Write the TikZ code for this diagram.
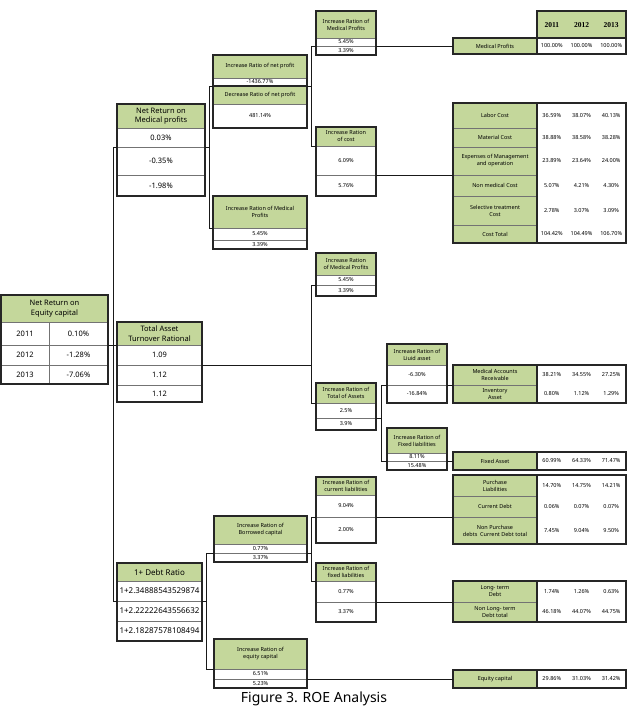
\documentclass[tikz,border=0pt]{standalone}
\usepackage{fontspec}
\setmainfont{Noto Sans}
\newfontfamily\yrfont{Liberation Serif}
\definecolor{boxgreen}{HTML}{C4D79B}
\newcommand\fmain{\fontsize{7.5}{9.5}\selectfont}
\newcommand\fsmall{\fontsize{5.5}{7}\selectfont}
\newcommand\fbig{\fontsize{8}{9.5}\selectfont}
\newcommand\cell[7]{\node[#6, minimum width={(#4)-(#2)}, minimum height={(#5)-(#3)}] (#1) at ({((#2)+(#4))/2},{((#3)+(#5))/2}) {#7};}
\newcommand\frm[2]{\draw[frame] (#1.north west) rectangle (#2.south east);}
\newcommand\tvals[5]{%
\node[txt,font=\fsmall] (#1a) at (551.8,#2) {#3};
\node[txt,font=\fsmall] (#1b) at (581.5,#2) {#4};
\node[txt,font=\fsmall] (#1c) at (611.2,#2) {#5};}
\tikzset{
 cellg/.style={draw=black!55, line width=0.4pt, fill=boxgreen, inner sep=0pt, outer sep=0pt, align=center},
 cellw/.style={draw=black!55, line width=0.4pt, fill=white, inner sep=0pt, outer sep=0pt, align=center},
 gS/.style={cellg, font=\fsmall}, wS/.style={cellw, font=\fsmall},
 gM/.style={cellg, font=\fmain}, wM/.style={cellw, font=\fmain},
 gB/.style={cellg, font=\fbig}, wB/.style={cellw, font=\fbig},
 frame/.style={draw=black!85, line width=1.1pt},
 conn/.style={draw=black!90, line width=0.8pt},
 txt/.style={inner sep=0pt, align=center}
}
\begin{document}
\begin{tikzpicture}[x=1pt,y=-1pt]
\useasboundingbox[fill=white] (0,0) rectangle (630,711);

% ---------- Net Return on Equity capital
\cell{eqh}{1}{295}{108}{322}{gM}{Net Return on\\Equity capital}
\cell{eqa1}{1}{322}{49}{345}{wM}{2011}
\cell{eqb1}{49}{322}{108}{345}{wM}{0.10\%}
\cell{eqa2}{1}{345}{49}{365}{wM}{2012}
\cell{eqb2}{49}{345}{108}{365}{wM}{-1.28\%}
\cell{eqa3}{1}{365}{49}{384}{wM}{2013}
\cell{eqb3}{49}{365}{108}{384}{wM}{-7.06\%}
\frm{eqh}{eqb3}

% ---------- Net Return on Medical profits
\cell{nrmh}{117}{104}{205}{128}{gM}{Net Return on\\Medical profits}
\cell{nrm1}{117}{128}{205}{147}{wM}{0.03\%}
\cell{nrm2}{117}{147}{205}{175}{wM}{-0.35\%}
\cell{nrm3}{117}{175}{205}{196}{wM}{-1.98\%}
\frm{nrmh}{nrm3}

% ---------- Total Asset Turnover
\cell{tath}{117}{322}{202}{345}{gM}{Total Asset\\Turnover Rational}
\cell{tat1}{117}{345}{202}{365}{wM}{1.09}
\cell{tat2}{117}{365}{202}{385}{wM}{1.12}
\cell{tat3}{117}{385}{202}{402}{wM}{1.12}
\frm{tath}{tat3}

% ---------- 1+ Debt Ratio
\cell{drh}{117}{563}{202}{581}{gB}{1+ Debt Ratio}
\cell{dr1}{117}{581}{202}{601}{wB}{1+2.34888543529874}
\cell{dr2}{117}{601}{202}{621}{wB}{1+2.22222643556632}
\cell{dr3}{117}{621}{202}{641}{wB}{1+2.18287578108494}
\frm{drh}{dr3}

% ---------- net profit ratios
\cell{inph}{213}{55}{307}{78}{gS}{Increase Ratio of net profit}
\cell{inp1}{213}{78}{307}{86}{wS}{-1436.77\%}
\frm{inph}{inp1}
\cell{inph2}{213}{86}{307}{104}{gS}{Decrease Ratio of net profit}
\cell{inp2}{213}{104}{307}{128}{wS}{481.14\%}
\frm{inph2}{inp2}

\cell{imp1h}{213}{196}{307}{228}{gS}{Increase Ration of Medical\\Profits}
\cell{imp1a}{213}{228}{307}{240}{wS}{5.45\%}
\cell{imp1b}{213}{240}{307}{249}{wS}{3.39\%}
\frm{imp1h}{imp1b}

\cell{imp2h}{316}{11}{376}{38}{gS}{Increase Ration of\\Medical Profits}
\cell{imp2a}{316}{38}{376}{46}{wS}{5.45\%}
\cell{imp2b}{316}{46}{376}{55}{wS}{3.39\%}
\frm{imp2h}{imp2b}

\cell{irch}{316}{127}{376}{146}{gS}{Increase Ration\\of cost}
\cell{irc1}{316}{146}{376}{175}{wS}{6.09\%}
\cell{irc2}{316}{175}{376}{196}{wS}{5.76\%}
\frm{irch}{irc2}

% ---------- asset ratios
\cell{imp3h}{316}{253}{376}{275}{gS}{Increase Ration\\of Medical Profits}
\cell{imp3a}{316}{275}{376}{285}{wS}{5.45\%}
\cell{imp3b}{316}{285}{376}{296}{wS}{3.39\%}
\frm{imp3h}{imp3b}

\cell{itah}{316}{383}{376}{403}{gS}{Increase Ration of\\Total of Assets}
\cell{ita1}{316}{403}{376}{418}{wS}{2.5\%}
\cell{ita2}{316}{418}{376}{430}{wS}{3.9\%}
\frm{itah}{ita2}

\cell{ilah}{387}{344}{447}{365}{gS}{Increase Ration of\\Liuid asset}
\cell{ila1}{387}{365}{447}{385}{wS}{-6.30\%}
\cell{ila2}{387}{385}{447}{403}{wS}{-16.84\%}
\frm{ilah}{ila2}

\cell{ifah}{387}{428}{447}{453}{gS}{Increase Ration of\\Fixed liabilities}
\cell{ifa1}{387}{453}{447}{461}{wS}{8.11\%}
\cell{ifa2}{387}{461}{447}{470}{wS}{15.48\%}
\frm{ifah}{ifa2}

% ---------- capital ratios
\cell{ibch}{214}{516}{307}{544}{gS}{Increase Ration of\\Borrowed capital}
\cell{ibc1}{214}{544}{307}{553}{wS}{0.77\%}
\cell{ibc2}{214}{553}{307}{562}{wS}{3.37\%}
\frm{ibch}{ibc2}

\cell{iech}{214}{639}{307}{669}{gS}{Increase Ration of\\equity capital}
\cell{iec1}{214}{669}{307}{679}{wS}{6.51\%}
\cell{iec2}{214}{679}{307}{688}{wS}{5.23\%}
\frm{iech}{iec2}

\cell{iclh}{316}{477}{376}{495}{gS}{Increase Ration of\\current liabilities}
\cell{icl1}{316}{495}{376}{517}{wS}{9.04\%}
\cell{icl2}{316}{517}{376}{543}{wS}{2.00\%}
\frm{iclh}{icl2}

\cell{iflh}{316}{563}{376}{581}{gS}{Increase Ration of\\fixed liabilities}
\cell{ifl1}{316}{581}{376}{602}{wS}{0.77\%}
\cell{ifl2}{316}{602}{376}{622}{wS}{3.37\%}
\frm{iflh}{ifl2}

% ---------- right tables
\cell{yrh}{537}{11}{626}{38}{cellg}{}
\node[txt] (y1) at (551.8,25) {\yrfont\bfseries\fontsize{7.5}{8}\selectfont 2011};
\node[txt] (y2) at (581.5,25) {\yrfont\bfseries\fontsize{7.5}{8}\selectfont 2012};
\node[txt] (y3) at (611.2,25) {\yrfont\bfseries\fontsize{7.5}{8}\selectfont 2013};
\frm{yrh}{yrh}
\cell{mpl}{453}{38}{537}{54}{gS}{Medical Profits}
\cell{mpv}{537}{38}{626}{54}{cellw}{}
\tvals{mp}{46}{100.00\%}{100.00\%}{100.00\%}
\frm{mpl}{mpv}
\draw[frame] (mpl.north east) -- (mpl.south east);

\cell{ctv}{537}{103}{626}{243}{cellw}{}
\cell{ct1}{453}{103}{537}{128}{gS}{Labor Cost}
\cell{ct2}{453}{128}{537}{147}{gS}{Material Cost}
\cell{ct3}{453}{147}{537}{175}{gS}{Expenses of Management\\and operation}
\cell{ct4}{453}{175}{537}{196}{gS}{Non medical Cost}
\cell{ct5}{453}{196}{537}{225}{gS}{Selective treatment\\Cost}
\cell{ct6}{453}{225}{537}{243}{gS}{Cost Total}
\tvals{cta}{115.5}{36.59\%}{38.07\%}{40.13\%}
\tvals{ctb}{137.5}{38.88\%}{38.58\%}{38.28\%}
\tvals{ctc}{161}{23.89\%}{23.64\%}{24.00\%}
\tvals{ctd}{185.5}{5.07\%}{4.21\%}{4.30\%}
\tvals{cte}{210.5}{2.78\%}{3.07\%}{3.09\%}
\tvals{ctf}{234}{104.42\%}{104.49\%}{106.70\%}
\frm{ct1}{ctv}
\draw[frame] (ct1.north east) -- (ct6.south east);

\cell{marv}{537}{365}{626}{403}{cellw}{}
\cell{mar1}{453}{365}{537}{385}{gS}{Medical Accounts\\Receivable}
\cell{mar2}{453}{385}{537}{403}{gS}{Inventory\\Asset}
\tvals{mra}{375}{38.21\%}{34.55\%}{27.25\%}
\tvals{mrb}{394}{0.80\%}{1.12\%}{1.29\%}
\frm{mar1}{marv}
\draw[frame] (mar1.north east) -- (mar2.south east);

\cell{fav}{537}{452}{626}{470}{cellw}{}
\cell{fa1}{453}{452}{537}{470}{gS}{Fixed Asset}
\tvals{fa}{461}{60.99\%}{64.33\%}{71.47\%}
\frm{fa1}{fav}
\draw[frame] (fa1.north east) -- (fa1.south east);

\cell{plv}{537}{475}{626}{544}{cellw}{}
\cell{pl1}{453}{475}{537}{496}{gS}{Purchase\\Liabilities}
\cell{pl2}{453}{496}{537}{517}{gS}{Current Debt}
\cell{pl3}{453}{517}{537}{544}{gS}{Non Purchase\\debts\enspace Current Debt total}
\tvals{pla}{485.5}{14.70\%}{14.75\%}{14.21\%}
\tvals{plb}{506.5}{0.06\%}{0.07\%}{0.07\%}
\tvals{plc}{530.5}{7.45\%}{9.04\%}{9.50\%}
\frm{pl1}{plv}
\draw[frame] (pl1.north east) -- (pl3.south east);

\cell{ltv}{537}{581}{626}{622}{cellw}{}
\cell{lt1}{453}{581}{537}{602}{gS}{Long- term\\Debt}
\cell{lt2}{453}{602}{537}{622}{gS}{Non Long- term\\Debt total}
\tvals{lta}{591.5}{1.74\%}{1.26\%}{0.63\%}
\tvals{ltb}{612}{46.18\%}{44.07\%}{44.75\%}
\frm{lt1}{ltv}
\draw[frame] (lt1.north east) -- (lt2.south east);

\cell{ecv}{537}{670}{626}{688}{cellw}{}
\cell{ec1}{453}{670}{537}{688}{gS}{Equity capital}
\tvals{ec}{679}{29.86\%}{31.03\%}{31.42\%}
\frm{ec1}{ecv}
\draw[frame] (ec1.north east) -- (ec1.south east);

% ---------- connectors
\draw[conn] (nrm1.south west) -- ++(-4,0) |- (dr1.south west);
\draw[conn] (eqb1.south east) -- (tath.south west);

\draw[conn] (inp1.south west) -- ++(-4,0) |- (imp1h.south west);
\draw[conn] (nrm1.south east) -- ([xshift=-4pt]inp1.south west |- nrm1.south east);

\draw[conn] (imp2a.south west) -- ++(-5,0) |- (irch.south west);
\draw[conn] (inp1.south east) -- ([xshift=-5pt]imp2a.south west |- inp1.south east);
\draw[conn] (imp2a.south east) -- (mpl.west);
\draw[conn] (irc1.south east) -- (ct3.south west);

\draw[conn] (imp3a.south west) -- ++(-5,0) |- (itah.south west);
\draw[conn] (tat1.south east) -- ([xshift=-5pt]imp3a.south west |- tat1.south east);

\draw[conn] (ila1.south west) -- ++(-6,0) |- (ifa1.south west);
\draw[conn] (ita1.south east) -- ([xshift=-6pt]ila1.south west |- ita1.south east);
\draw[conn] (ila1.south east) -- (mar1.south west);
\draw[conn] (ifa1.south east) -- (fa1.west);

\draw[conn] (ibc1.south west) -- ++(-8,0) |- (iech.south west);
\draw[conn] (dr1.south east) -- ([xshift=-8pt]ibc1.south west |- dr1.south east);
\draw[conn] (icl1.south west) -- ++(-5,0) |- (iflh.south west);
\draw[conn] (ibc1.south east) -- ([xshift=-5pt]icl1.south west |- ibc1.south east);
\draw[conn] (icl1.south east) -- (pl2.south west);
\draw[conn] (ifl1.south east) -- (lt1.south west);
\draw[conn] (iec1.south east) -- (ec1.west);

% ---------- caption
\node[txt] (cap) at (314,699) {\fontsize{14}{16}\selectfont Figure 3. ROE Analysis};
\end{tikzpicture}
\end{document}
